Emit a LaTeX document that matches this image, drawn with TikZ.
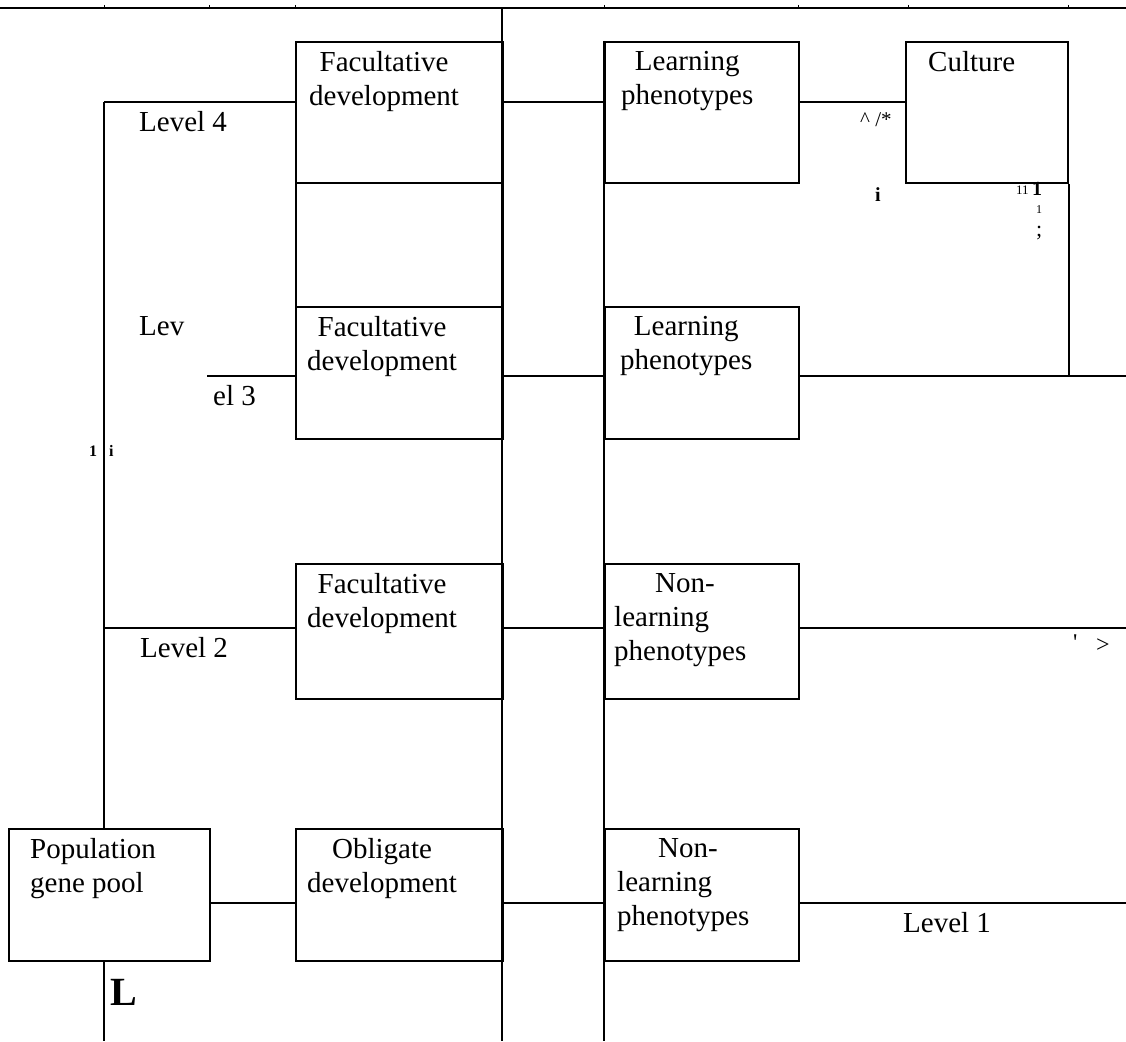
\documentclass[tikz,border=0pt]{standalone}
\usepackage{fontspec}
\setmainfont{Liberation Serif}
\usepackage{tikz}

\tikzset{
  box/.style 2 args={draw, line width=1.8pt, inner sep=0pt, anchor=north west,
    minimum width=#1pt, minimum height=#2pt},
  boxtext/.style={anchor=north west, inner sep=0pt, font=\fontsize{29}{34}\selectfont},
  lvltext/.style={anchor=base west, inner sep=0pt, font=\fontsize{29}{34}\selectfont},
  speck/.style={anchor=base west, inner sep=0pt},
  wire/.style={line width=1.8pt}
}

\begin{document}
\begin{tikzpicture}[x=1pt, y=-1pt]
  \useasboundingbox (0,0) rectangle (1126,1041);

  % rule along the top of the page, with its small ticks
  \draw[line width=1.2pt] (0,8) -- (1126,8);
  \foreach \tx in {104,209,295,604,798,908,1068}
    \draw[line width=0.8pt] (\tx,5) -- (\tx,9);

  % development column
  \node[box={207}{141}] (fac4) at (295,41) {};
  \node[box={207}{124}] (fac4low) at (295,182) {};
  \node[box={207}{132}] (fac3) at (295,306) {};
  \node[box={207}{135}] (fac2) at (295,563) {};
  \node[box={207}{132}] (obl) at (295,828) {};

  % phenotype column, culture and gene pool
  \node[box={194}{141}] (learn4) at (604,41) {};
  \node[box={194}{132}] (learn3) at (604,306) {};
  \node[box={194}{135}] (nonl2) at (604,563) {};
  \node[box={194}{132}] (nonl1) at (604,828) {};
  \node[box={162}{141}] (cult) at (905,41) {};
  \node[box={201}{132}] (gene) at (8,828) {};

  % box texts
  \node[boxtext, align=center] (fac4t) at ([shift={(14,10)}]fac4.north west) {Facultative\\development};
  \node[boxtext, align=center] (fac3t) at ([shift={(12,10)}]fac3.north west) {Facultative\\development};
  \node[boxtext, align=center] (fac2t) at ([shift={(12,10)}]fac2.north west) {Facultative\\development};
  \node[boxtext, align=center] (oblt) at ([shift={(12,10)}]obl.north west) {Obligate\\development};
  \node[boxtext, align=center] (learn4t) at ([shift={(17,10)}]learn4.north west) {Learning\\phenotypes};
  \node[boxtext, align=center] (learn3t) at ([shift={(16,10)}]learn3.north west) {Learning\\phenotypes};
  \node[boxtext, align=left] (nonl2t) at ([shift={(10,10)}]nonl2.north west) {\hspace*{41pt}Non-\\learning\\phenotypes};
  \node[boxtext, align=left] (nonl1t) at ([shift={(13,10)}]nonl1.north west) {\hspace*{41pt}Non-\\learning\\phenotypes};
  \node[boxtext] (cultt) at ([shift={(23,10)}]cult.north west) {Culture};
  \node[boxtext, align=left] (genet) at ([shift={(22,10)}]gene.north west) {Population\\gene pool};

  % level rows and long verticals
  \coordinate (lv4) at (104,102);
  \coordinate (lv3) at (207,376);
  \coordinate (lv2) at (104,628);
  \coordinate (lv1) at (209,903);
  \coordinate (top) at (502,8);
  \coordinate (bot) at (502,1041);
  \coordinate (rim) at (1126,0);

  \draw[wire] (lv4) -- (gene.north -| lv4);
  \draw[wire] (gene.south -| lv4) -- (bot -| lv4);
  \draw[wire] (top) -- (bot);
  \draw[wire] (learn4.north west) -- (bot -| learn4.west);

  % level 4
  \draw[wire] (lv4) -- (lv4 -| fac4.west);
  \draw[wire] (lv4 -| fac4.east) -- (lv4 -| learn4.west);
  \draw[wire] (lv4 -| learn4.east) -- (lv4 -| cult.west);
  % level 3
  \draw[wire] (lv3) -- (lv3 -| fac3.west);
  \draw[wire] (lv3 -| fac3.east) -- (lv3 -| learn3.west);
  \draw[wire] (lv3 -| learn3.east) -- (lv3 -| rim);
  \draw[wire] (cult.south east) -- (lv3 -| cult.east);
  % level 2
  \draw[wire] (lv2) -- (lv2 -| fac2.west);
  \draw[wire] (lv2 -| fac2.east) -- (lv2 -| nonl2.west);
  \draw[wire] (lv2 -| nonl2.east) -- (lv2 -| rim);
  % level 1
  \draw[wire] (lv1) -- (lv1 -| obl.west);
  \draw[wire] (lv1 -| obl.east) -- (lv1 -| nonl1.west);
  \draw[wire] (lv1 -| nonl1.east) -- (lv1 -| rim);

  % level labels
  \node[lvltext] (l4) at (139,131) {Level 4};
  \node[lvltext] (l3a) at (139,335) {Lev};
  \node[lvltext] (l3b) at (213,405) {el 3};
  \node[lvltext] (l2) at (140,657) {Level 2};
  \node[lvltext] (l1) at (903,932) {Level 1};

  % stray marks
  \node[speck, font=\fontsize{21}{21}\selectfont] (s1) at (860,126) {\textasciicircum\ /*};
  \node[speck, font=\bfseries\fontsize{20}{20}\selectfont] (s2) at (875,201) {i};
  \node[speck, font=\fontsize{13}{13}\selectfont] (s3) at (1016,194) {11};
  \node[speck, font=\bfseries\fontsize{20}{20}\selectfont] (s4) at (1032,195) {1};
  \node[speck, font=\fontsize{12}{12}\selectfont] (s5) at (1036,213) {1};
  \node[speck, font=\fontsize{22}{22}\selectfont] (s6) at (1036,236) {;};
  \node[speck, font=\bfseries\fontsize{16}{16}\selectfont] (s7) at (89,456) {1};
  \node[speck, font=\bfseries\fontsize{16}{16}\selectfont] (s8) at (109,456) {i};
  \node[speck, font=\fontsize{24}{24}\selectfont] (s9) at (1073,650) {\textquotesingle};
  \node[speck, font=\fontsize{24}{24}\selectfont] (s10) at (1096,652) {>};
  \node[speck, font=\bfseries\fontsize{40}{40}\selectfont] (s11) at (110,1005) {L};
\end{tikzpicture}
\end{document}
